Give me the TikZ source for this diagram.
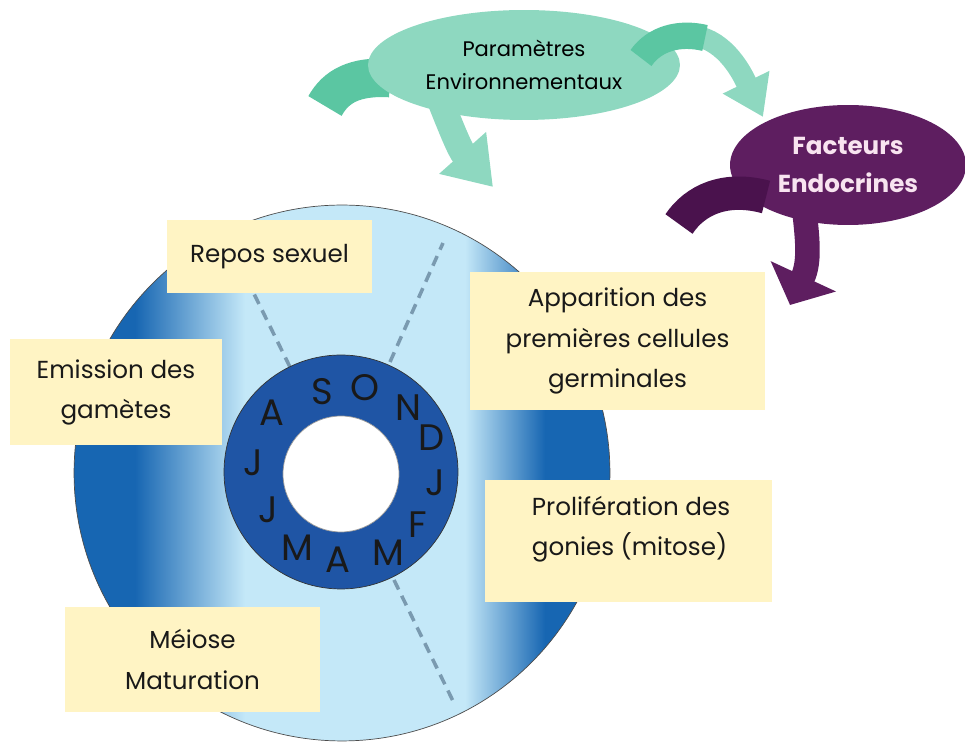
\documentclass[tikz,border=0pt]{standalone}
\usepackage{fontspec}
\setmainfont{Poppins}
\usetikzlibrary{arrows.meta,shapes.geometric}

\definecolor{diskdark}{HTML}{1766B2}
\definecolor{disklight}{HTML}{C4E8F8}
\definecolor{ringblue}{HTML}{1F55A5}
\definecolor{boxyellow}{HTML}{FFF4C4}
\definecolor{envgreen}{HTML}{8ED8C0}
\definecolor{envdark}{HTML}{5BC6A2}
\definecolor{endopurple}{HTML}{5E1E60}
\definecolor{endodark}{HTML}{4A124D}
\definecolor{endotext}{HTML}{F8E4F0}
\definecolor{cutgray}{HTML}{7A9AB0}

\tikzset{
  phase/.style={fill=boxyellow, align=center, inner sep=0pt, text=black!90,
    font=\fontsize{14}{22.8}\selectfont},
  month/.style={font=\fontsize{21}{21}\selectfont, text=black!90},
  cut/.style={cutgray, line width=2pt, dash pattern=on 6pt off 4pt},
  band/.style={line cap=butt},
}

\begin{document}
\begin{tikzpicture}[x=0.02cm,y=-0.02cm]
\useasboundingbox (0,0) rectangle (965,742);

%%%
% disk and ring of months
%%%
\begin{scope}
  \clip (342,473) circle[radius=5.36cm];
  \fill[diskdark] (60,190) rectangle (135,750);
  \shade[left color=diskdark, right color=disklight] (135,190) rectangle (245,750);
  \fill[disklight] (245,190) rectangle (465,750);
  \shade[left color=disklight, right color=diskdark] (465,190) rectangle (545,750);
  \fill[diskdark] (545,190) rectangle (620,750);
\end{scope}
\node[circle, draw=black!70, thin, minimum size=10.72cm] (disk) at (342,473) {};

\coordinate (cutA1) at (290,367);
\coordinate (cutA2) at (229,243);
\coordinate (cutB1) at (390,362);
\coordinate (cutB2) at (443,243);
\coordinate (cutC1) at (394,580);
\coordinate (cutC2) at (453,701);
\draw[cut] (cutA1) -- (cutA2);
\draw[cut] (cutB1) -- (cutB2);
\draw[cut] (cutC1) -- (cutC2);

\node[circle, fill=ringblue, draw=black!80, thin, minimum size=4.68cm] (ring) at (341,472) {};
\node[circle, fill=white, draw=black!40, thin, minimum size=2.32cm] (hole) at (341,474) {};

\foreach \m/\x/\y [count=\i] in {S/322/392, O/365/388, N/408/408, D/432/438,
    J/435/483, F/418/525, M/388/553, A/338/560, M/297/548, J/268/510,
    J/253/463, A/272/413}
  \node[month] (month\i) at (\x,\y) {\m};

%%%
% phases
%%%
\node[phase, minimum width=4.1cm, minimum height=1.46cm] (repos) at (269.5,256.5) {Repos sexuel};
\node[phase, minimum width=4.24cm, minimum height=2.12cm] (emission) at (116,392) {Emission des\\gamètes};
\node[phase, minimum width=5.9cm, minimum height=2.76cm] (apparition) at (617.5,341) {Apparition des\\premières cellules\\germinales};
\node[phase, minimum width=5.74cm, minimum height=2.44cm] (prolif) at (628.5,541) {};
\node[phase, fill=none, align=left] (prolifLabel) at (631,529) {Prolifération des\\gonies (mitose)};
\node[phase, minimum width=5.1cm, minimum height=2.1cm] (meiose) at (192.5,659.5) {Méiose\\Maturation};

%%%
% environment and endocrine factors
%%%
\draw[band, envdark, line width=22pt] (325,106) .. controls (336,86) and (355,76) .. (390,78);
\draw[band, envgreen, line width=15pt, -{Triangle[width=34pt,length=26pt]}] (440,100) .. controls (452,130) and (460,150) .. (493,187);
\node[ellipse, fill=envgreen, minimum width=6.24cm, minimum height=2.2cm, align=center,
  font=\fontsize{12}{18.8}\selectfont] (env) at (524,65) {Paramètres\\Environnementaux};
\draw[band, envgreen, line width=12pt, -{Triangle[width=28pt,length=22pt]}] (700,37) .. controls (730,45) and (745,80) .. (763,117);
\draw[band, envdark, line width=15pt] (641,58) .. controls (655,38) and (680,32) .. (705,38);

\draw[band, endopurple, line width=14pt, -{Triangle[width=40pt,length=18pt]}] (803,200) .. controls (808,240) and (810,262) .. (790,305);
\node[ellipse, fill=endopurple, minimum width=4.72cm, minimum height=2.4cm, align=center,
  text=endotext, font=\bfseries\fontsize{14}{21.6}\selectfont] (endo) at (848,165) {Facteurs\\Endocrines};
\draw[band, endodark, line width=19pt] (679,224) .. controls (695,200) and (725,186) .. (766,197);
\end{tikzpicture}
\end{document}
